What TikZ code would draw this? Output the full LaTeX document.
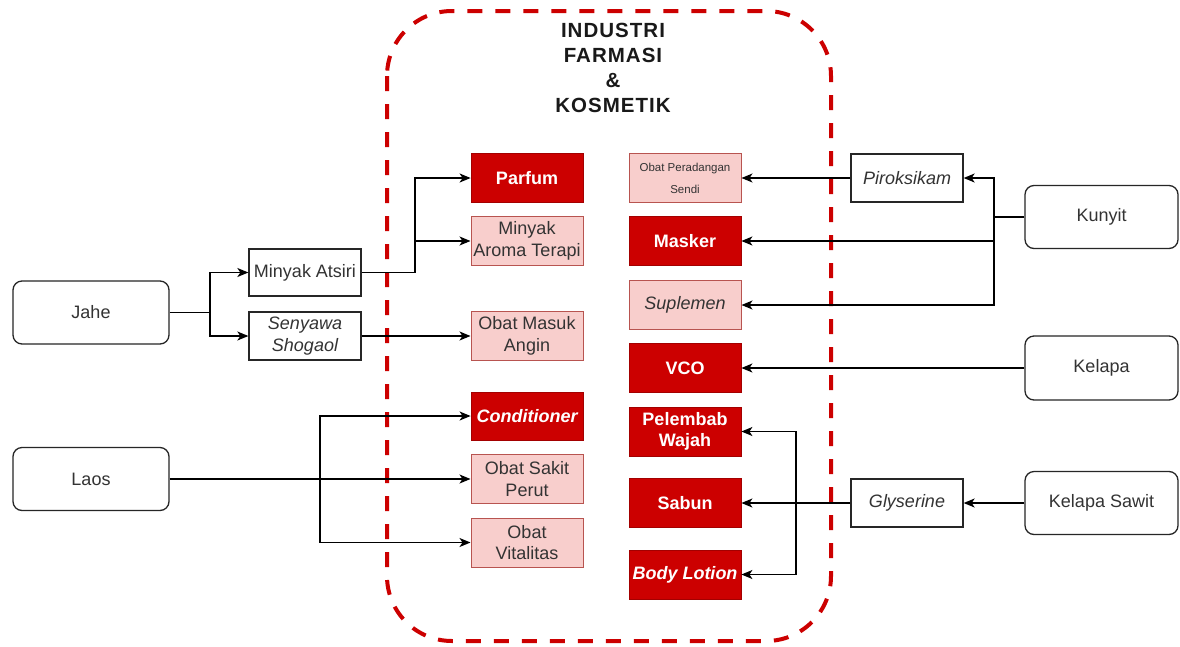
\documentclass[tikz,border=0pt]{standalone}
\usepackage{fontspec}
\setmainfont{Liberation Sans}
\usetikzlibrary{arrows.meta}
\definecolor{dred}{HTML}{CC0000}
\definecolor{pale}{HTML}{F8CECC}
\definecolor{paleline}{HTML}{B85450}
\definecolor{ink}{HTML}{333333}
\begin{document}
\begin{tikzpicture}[x=1pt,y=-1pt,
  basefont/.style={font=\fontsize{18}{21.6}\selectfont},
  darkbox/.style={basefont, font=\fontsize{18}{21.6}\selectfont\bfseries, fill=dred, draw=dred!80!black, line width=0.8pt,
    text=white, minimum width=112pt, minimum height=49pt, inner sep=0pt, align=center},
  palebox/.style={basefont, fill=pale, draw=paleline, line width=1pt, text=ink,
    minimum width=112pt, minimum height=49pt, inner sep=0pt, align=center},
  plainbox/.style={basefont, fill=white, draw=black!85, line width=1.3pt, text=ink,
    minimum width=112pt, minimum height=48pt, inner sep=0pt, align=center},
  source/.style={basefont, fill=white, draw=black!85, line width=1.3pt, text=ink,
    rounded corners=9pt, minimum width=156pt, minimum height=63pt, inner sep=0pt, align=center},
  arr/.style={draw=black, line width=1.3pt, -{Stealth[length=11pt,width=9pt,inset=3pt]}},
  link/.style={draw=black, line width=1.3pt}]
\useasboundingbox (0,0) rectangle (1180,646);
\fill[white] (0,0) rectangle (1180,646);

% dashed frame of the industry group
\draw[dred, line width=4pt, dash pattern=on 15pt off 13pt, rounded corners=65pt]
  (387,11) rectangle (831,641);
\node[font=\fontsize{20.5}{25}\selectfont\bfseries\addfontfeatures{LetterSpace=5}, text=black!90, align=center] (title) at (613,68)
  {INDUSTRI\\FARMASI\\\&\\KOSMETIK};

% products, left column
\node[darkbox] (parfum) at (527,178) {Parfum};
\node[palebox] (aroma) at (527,241) {Minyak\\Aroma Terapi};
\node[palebox] (masuk) at (527,336) {Obat Masuk\\Angin};
\node[darkbox, minimum height=48pt] (cond) at (527,416) {\itshape Conditioner};
\node[palebox] (sakit) at (527,479) {Obat Sakit\\Perut};
\node[palebox] (vital) at (527,542.5) {Obat\\Vitalitas};

% products, right column
\node[palebox, font=\fontsize{11.5}{22}\selectfont] (radang) at (685,178) {Obat Peradangan\\Sendi};
\node[darkbox] (masker) at (685,241) {Masker};
\node[palebox, font=\fontsize{18}{21.6}\selectfont\itshape] (suplemen) at (685,305) {Suplemen};
\node[darkbox] (vco) at (685,368) {VCO};
\node[darkbox] (pelembab) at (685,431.5) {Pelembab\\Wajah};
\node[darkbox] (sabun) at (685,503) {Sabun};
\node[darkbox] (body) at (685,574.5) {\itshape Body Lotion};

% raw materials and intermediates
\node[source] (jahe) at (91,312.5) {Jahe};
\node[source] (laos) at (91,479) {Laos};
\node[plainbox, minimum height=47pt] (atsiri) at (305,272.5) {Minyak Atsiri};
\node[plainbox, font=\fontsize{18}{21.6}\selectfont\itshape] (shogaol) at (305,336) {Senyawa\\Shogaol};
\node[plainbox, font=\fontsize{18}{21.6}\selectfont\itshape] (pirok) at (907,178) {Piroksikam};
\node[plainbox, font=\fontsize{18}{21.6}\selectfont\itshape] (glys) at (907,503) {Glyserine};
\node[source, minimum width=153pt] (kunyit) at (1101.5,217) {Kunyit};
\node[source, minimum width=153pt, minimum height=64pt] (kelapa) at (1101.5,368) {Kelapa};
\node[source, minimum width=153pt] (sawit) at (1101.5,503) {Kelapa Sawit};

% branch points
\coordinate (jb) at (210,312.5);
\coordinate (ab) at (415,272.5);
\coordinate (lb) at (320,479);
\coordinate (kb) at (994,217);
\coordinate (gb) at (796,503);

% jahe
\draw[link] (jahe.east) -- (jb);
\draw[arr] (jb) |- (atsiri.west);
\draw[arr] (jb) |- (shogaol.west);
\draw[link] (atsiri.east) -- (ab);
\draw[arr] (ab) |- (parfum.west);
\draw[arr] (ab) |- (aroma.west);
\draw[arr] (shogaol.east) -- (masuk.west);

% laos
\draw[arr] (laos.east) -- (sakit.west);
\draw[arr] (lb) |- (cond.west);
\draw[arr] (lb) |- (vital.west);

% kunyit
\draw[link] (kunyit.west) -- (kb);
\draw[arr] (kb) |- (pirok.east);
\draw[arr] (kb) |- (masker.east);
\draw[arr] (kb) |- (suplemen.east);
\draw[arr] (pirok.west) -- (radang.east);

% kelapa
\draw[arr] (kelapa.west) -- (vco.east);

% kelapa sawit
\draw[arr] (sawit.west) -- (glys.east);
\draw[arr] (glys.west) -- (sabun.east);
\draw[arr] (gb) |- (pelembab.east);
\draw[arr] (gb) |- (body.east);
\end{tikzpicture}
\end{document}
